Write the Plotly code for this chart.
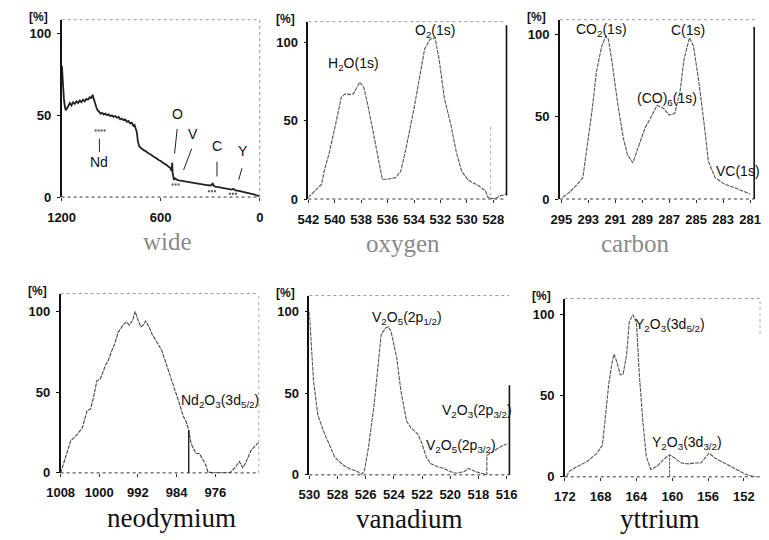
import plotly.graph_objects as go

# ---------------- data ----------------
wide_x = [1198, 1192, 1186, 1180, 1175, 1168, 1160, 1150, 1140, 1130, 1120, 1110, 1100, 1090, 1080,
          1070, 1060, 1050, 1040, 1030, 1020, 1012, 1005, 998, 990, 982, 975, 965, 955, 945, 935,
          925, 915, 905, 895, 885, 875, 865, 855, 845, 835, 825, 815, 805, 795, 785, 775, 765, 758,
          752, 745, 738, 730, 720, 710, 700, 690, 680, 670, 660, 650, 640, 630, 620, 610, 600, 590,
          580, 570, 560, 550, 540, 534, 530, 528, 524, 520, 515, 510, 500, 490, 480, 470, 460, 450,
          440, 430, 420, 410, 400, 390, 380, 370, 360, 350, 340, 330, 320, 310, 300, 290, 285, 280,
          275, 270, 260, 250, 240, 230, 220, 210, 200, 190, 180, 170, 160, 150, 140, 130, 120, 110,
          100, 90, 80, 70, 60, 50, 40, 30, 20, 10, 2]
wide_y = [80, 68, 60, 55, 53, 54, 56, 57.5, 56, 58, 57, 58.5, 57.5, 59, 58,
          59.5, 58.5, 60, 59.5, 61, 60.5, 62.5, 60, 57, 55, 53, 52.5, 51, 51.5, 50.5, 51,
          50, 50.5, 49.5, 50, 49, 49.5, 48.5, 49, 47.5, 48, 47, 47.5, 46, 46.5, 45, 45.5, 43.5, 44,
          42, 40, 34, 31, 30, 29.5, 28.5, 28, 27, 26.5, 26, 25, 24.5, 24, 23, 22.5, 22, 21,
          20.5, 20, 19, 18.5, 17.5, 16, 21, 15, 11, 10.5, 11.5, 11, 10.5, 10.2, 10, 9.8, 9.6, 9.5,
          9.3, 9.2, 9, 8.8, 8.6, 8.5, 8.3, 8.2, 8, 7.8, 7.6, 7.5, 7.3, 7.2, 7, 7.5, 8.5, 7,
          6.5, 6.4, 6.2, 6, 5.8, 5.6, 5.4, 5.2, 5, 4.8, 4.6, 4.5, 5, 4.2, 4, 3.8, 3.6, 3.3,
          3.1, 2.9, 2.6, 2.4, 2.1, 1.9, 1.6, 1.4, 1.1, 0.8, 0.5]
wide_marks = [([1000, 932], [40.6, 40.6]), ([534, 481], [7.6, 7.6]),
              ([314, 265], [3.6, 3.6]), ([187, 138], [2.0, 2.0])]
wide_ticks = [1200, 600, 0]

oxy_x = [542, 541.4, 541.0, 540.8, 540.4, 539.9, 539.5, 539.2, 538.8, 538.6, 538.2, 538.1, 537.8,
         537.5, 537.1, 536.7, 536.4, 536.0, 535.4, 535.0, 534.6, 534.0, 533.5, 533.2, 532.8, 532.4,
         532.1, 531.7, 531.2, 530.8, 530.4, 529.9, 529.1, 528.6, 528.4, 527.9, 527.5, 527.0]
oxy_y = [1, 6.3, 9.4, 17.8, 30, 49, 65, 67, 66.5, 67, 73, 74.4, 71,
         60, 43, 26, 12.6, 12.6, 13.6, 17.8, 32.5, 57.7, 82, 95.4, 101.7, 102.7,
         89, 64, 47, 30, 17.8, 12, 8.4, 5.2, 1, 0, 2, 3]
oxy_ticks = [542, 540, 538, 536, 534, 532, 530, 528]

carb_x = [294.9, 294.4, 293.8, 293.4, 293.1, 292.7, 292.4, 292.0, 291.7, 291.5, 291.2, 290.8, 290.4,
          290.1, 289.7, 289.2, 288.8, 288.4, 287.9, 287.4, 287.0, 286.6, 286.2, 285.9, 285.5, 285.2,
          284.8, 284.4, 284.1, 283.6, 282.9, 282.2, 281.7, 281.0]
carb_y = [1, 4, 9, 13, 31, 55, 77, 93, 99, 97, 81, 57, 37,
          27, 22, 33, 43, 49, 57, 55, 51, 52, 65, 85, 98, 93,
          71, 45, 23, 13, 9, 7, 5.4, 3]
carb_ticks = [295, 293, 291, 289, 287, 285, 283, 281]

nd_x = [1008, 1006.9, 1005.9, 1004.5, 1003.5, 1003, 1002.5, 1001.8, 1001.2, 1000.5, 999.8, 998.8,
        998.1, 997.5, 996.8, 996.1, 995.1, 994.4, 993.8, 993.1, 992.6, 992.1, 991.4, 990.9, 990.4,
        989.7, 989.1, 988.1, 987.1, 986.1, 985.0, 984.0, 983.4, 982.7, 982.0, 981.5, 981.0, 980.0,
        979.3, 978.7, 978.0, 977.5, 976.0, 974.0, 973.0, 972.0, 971.0, 970.3, 969.6, 968.6, 967.6,
        967.0]
nd_y = [0, 10, 20, 24, 28, 33.5, 38.6, 39.6, 46.7, 57, 58, 66,
        70, 75, 80, 87, 91.5, 93.5, 91.5, 94.5, 100, 95.5, 90.4, 91.5, 94,
        90.4, 86, 81, 76, 67, 57, 49, 42.7, 35.6, 31.5, 26.4, 18, 12,
        12, 9, 5, 0.4, 0, 0, 0, 3, 7, 3, 7, 14, 17,
        19]
nd_mark = ([981.5, 981.5], [0, 26.4])
nd_ticks = [1008, 1000, 992, 984, 976]

van_x = [530, 529.9, 529.7, 529.4, 529.0, 528.6, 528.2, 527.6, 527.2, 526.6, 526.3, 526.1, 525.8,
         525.4, 525.1, 524.9, 524.6, 524.4, 524.2, 523.8, 523.5, 523.1, 522.8, 522.3, 522.0, 521.7,
         521.4, 520.9, 520.5, 520.0, 519.6, 519.0, 518.7, 518.2, 517.4, 517.4, 517.0, 516.5, 516.0]
van_y = [100, 84, 57.6, 37, 27, 19, 11, 6, 4, 2, 0.4, 2, 17,
         43, 68, 86, 90, 91, 88, 72, 51.5, 33, 29, 25, 19, 11,
         7, 5, 4, 2, 1, 2, 4, 2, 0, 12, 14, 17, 19]
van_ticks = [530, 528, 526, 524, 522, 520, 518, 516]

ytt_x = [171.8, 171.5, 170.9, 169.5, 168.4, 167.8, 167.5, 167.1, 166.7, 166.5, 166.2, 165.8, 165.5,
         165.1, 164.8, 164.4, 164.0, 163.7, 163.3, 162.9, 162.4, 161.7, 161.0, 160.3, 159.7, 159.0,
         158.2, 157.5, 156.8, 156.4, 155.9, 155.2, 154.2, 153.2, 152.1, 151.4, 150.6]
ytt_y = [0.4, 3.4, 5.5, 9.5, 14.6, 19.6, 35, 57, 71, 75.7, 71, 63, 63,
         75, 95.5, 100, 95.5, 65, 35, 12.6, 4.5, 6.5, 10.5, 13.6, 11.5, 8.5,
         8, 8.5, 8.5, 11.5, 14.6, 11.5, 8.5, 5.5, 2.4, 0.8, 0]
ytt_ticks = [172, 168, 164, 160, 156, 152]

y_ticks = [0, 50, 100]

titles = ["wide", "oxygen", "carbon", "neodymium", "vanadium", "yttrium"]

# ---------------- layout helpers ----------------
W, H = 769, 540
TICKFONT = dict(family="Liberation Sans, Arial", size=13, color="#111", weight="bold")
LBLFONT = dict(family="Liberation Sans, Arial", size=14, color="#111")

panels = [
    dict(x=wide_x, y=wide_y, xr=[1200, 0], yr=[0, 108.4], px=[49, 253], py=[20, 200],
         ticks=wide_ticks, lw=1.8, col="#222", dash="solid"),
    dict(x=oxy_x, y=oxy_y, xr=[542, 527], yr=[0, 113], px=[303, 507], py=[22, 202],
         ticks=oxy_ticks, lw=1.1, col="#555", dash="4px,1px"),
    dict(x=carb_x, y=carb_y, xr=[295.1, 280.7], yr=[0, 109], px=[562, 762], py=[20, 202],
         ticks=carb_ticks, lw=1.1, col="#555", dash="4px,1px"),
    dict(x=nd_x, y=nd_y, xr=[1008, 967], yr=[0, 111], px=[48, 252], py=[298, 480],
         ticks=nd_ticks, lw=1.1, col="#444", dash="4px,1px"),
    dict(x=van_x, y=van_y, xr=[530, 515.8], yr=[0, 110], px=[304, 510], py=[300, 482],
         ticks=van_ticks, lw=1.1, col="#555", dash="4px,1px"),
    dict(x=ytt_x, y=ytt_y, xr=[172, 150.2], yr=[0, 110], px=[567, 768], py=[303, 484],
         ticks=ytt_ticks, lw=1.1, col="#555", dash="4px,1px"),
]

fig = go.Figure()
layout = {}
shapes = []
annotations = []

for i, p in enumerate(panels, start=1):
    xa = "x" if i == 1 else f"x{i}"
    ya = "y" if i == 1 else f"y{i}"
    fig.add_trace(go.Scatter(x=p["x"], y=p["y"], mode="lines", xaxis=xa, yaxis=ya,
                             line=dict(color=p["col"], width=p["lw"], dash=p["dash"]),
                             showlegend=False, hoverinfo="skip"))
    xdom = [p["px"][0] / W, p["px"][1] / W]
    ydom = [1 - p["py"][1] / H, 1 - p["py"][0] / H]
    layout["xaxis" if i == 1 else f"xaxis{i}"] = dict(
        domain=xdom, range=p["xr"], anchor=ya, tickvals=p["ticks"],
        ticktext=[str(t) for t in p["ticks"]], ticks="outside", ticklen=3, tickcolor="#333",
        ticklabelstandoff=5,
        showgrid=False, zeroline=False, showline=False, tickfont=TICKFONT)
    layout["yaxis" if i == 1 else f"yaxis{i}"] = dict(
        domain=ydom, range=p["yr"], anchor=xa, tickvals=y_ticks,
        ticktext=[str(t) for t in y_ticks], ticks="outside", ticklen=3, tickcolor="#111",
        ticklabelstandoff=3,
        showgrid=False, zeroline=False, showline=True, linecolor="#111", linewidth=1.6,
        tickfont=TICKFONT)
    xd = f"{xa} domain"
    yd = f"{ya} domain"
    shapes.append(dict(type="line", xref=xd, yref=yd, x0=0, x1=1, y0=0, y1=0,
                       line=dict(color="#333", width=1, dash="dot")))
    shapes.append(dict(type="line", xref=xd, yref=yd, x0=0, x1=1, y0=1, y1=1,
                       line=dict(color="#999", width=1, dash="dot")))
    annotations.append(dict(text="<b>[%]</b>", xref="paper", yref="paper",
                            x=(p["px"][0] - 24) / W, y=1 - (p["py"][0] - 3) / H,
                            showarrow=False, font=dict(family="Liberation Sans, Arial", size=12, color="#111"),
                            xanchor="center", yanchor="middle"))

shapes += [
    dict(type="line", xref="x domain", yref="y domain", x0=1, x1=1, y0=0, y1=1,
         line=dict(color="#999", width=1, dash="dot")),
    dict(type="line", xref="x2 domain", yref="y2 domain", x0=1, x1=1, y0=0.02, y1=0.98,
         line=dict(color="#111", width=1.6)),
    dict(type="line", xref="x3 domain", yref="y3 domain", x0=1, x1=1, y0=0.0, y1=0.96,
         line=dict(color="#111", width=1.6)),
    dict(type="line", xref="x4 domain", yref="y4 domain", x0=1, x1=1, y0=0, y1=1,
         line=dict(color="#aaa", width=1, dash="dot")),
    dict(type="line", xref="x5 domain", yref="y5 domain", x0=1, x1=1, y0=0, y1=0.5,
         line=dict(color="#111", width=1.6)),
    dict(type="line", xref="x6 domain", yref="y6 domain", x0=1, x1=1, y0=0.8, y1=1,
         line=dict(color="#aaa", width=1, dash="dot")),
    dict(type="line", xref="x2", yref="y2", x0=528.2, x1=528.2, y0=2, y1=47,
         line=dict(color="#aaa", width=1, dash="dot")),
    dict(type="line", xref="x6", yref="y6", x0=160.3, x1=160.3, y0=0, y1=13,
         line=dict(color="#555", width=1, dash="3px,1px")),
]

for mx, my in wide_marks:
    fig.add_trace(go.Scatter(x=mx, y=my, mode="lines", xaxis="x", yaxis="y",
                             line=dict(color="#555", width=2, dash="2px,1px"),
                             showlegend=False, hoverinfo="skip"))
fig.add_trace(go.Scatter(x=nd_mark[0], y=nd_mark[1], mode="lines", xaxis="x4", yaxis="y4",
                         line=dict(color="#111", width=1.3), showlegend=False, hoverinfo="skip"))

wide_leaders = [(971, 35.6, 971, 27.6), (500, 41.6, 516, 26.6), (412, 29.6, 461, 16.6),
                (259, 21.6, 259, 12.6), (108, 17.6, 127, 10.6)]
for x0, y0, x1, y1 in wide_leaders:
    shapes.append(dict(type="line", xref="x", yref="y", x0=x0, y0=y0, x1=x1, y1=y1,
                       line=dict(color="#222", width=1)))

peak_labels = [
    ("x", "y", 971, 21.6, "Nd"), ("x", "y", 500, 50.6, "O"), ("x", "y", 402, 38.6, "V"),
    ("x", "y", 259, 31, "C"), ("x", "y", 102, 28, "Y"),
    ("x2", "y2", 538.6, 86, "H<sub>2</sub>O(1s)"), ("x2", "y2", 532.4, 107, "O<sub>2</sub>(1s)"),
    ("x3", "y3", 292.0, 103, "CO<sub>2</sub>(1s)"), ("x3", "y3", 285.6, 103, "C(1s)"),
    ("x3", "y3", 287.2, 61, "(CO)<sub>6</sub>(1s)"), ("x3", "y3", 281.9, 17, "VC(1s)"),
    ("x4", "y4", 975, 44.7, "Nd<sub>2</sub>O<sub>3</sub>(3d<sub>5/2</sub>)"),
    ("x5", "y5", 523.1, 96, "V<sub>2</sub>O<sub>5</sub>(2p<sub>1/2</sub>)"),
    ("x5", "y5", 518.1, 39, "V<sub>2</sub>O<sub>3</sub>(2p<sub>3/2</sub>)"),
    ("x5", "y5", 519.2, 18, "V<sub>2</sub>O<sub>5</sub>(2p<sub>3/2</sub>)"),
    ("x6", "y6", 160.2, 93.5, "Y<sub>2</sub>O<sub>3</sub>(3d<sub>5/2</sub>)"),
    ("x6", "y6", 158.4, 20.6, "Y<sub>2</sub>O<sub>3</sub>(3d<sub>3/2</sub>)"),
]
for xr, yr, x, y, t in peak_labels:
    annotations.append(dict(text=t, xref=xr, yref=yr, x=x, y=y, showarrow=False,
                            font=LBLFONT, xanchor="center", yanchor="middle"))

title_pos = [(158, 245), (400, 247), (640, 247), (162, 526), (407, 527), (665, 527)]
for i, (t, (cx, cy)) in enumerate(zip(titles, title_pos)):
    top = i < 3
    annotations.append(dict(text=t, xref="paper", yref="paper", x=cx / W, y=1 - cy / H,
                            showarrow=False, xanchor="center", yanchor="middle",
                            font=dict(family="Liberation Serif, Times New Roman, serif",
                                      size=25 if top else 27,
                                      color="#8a8a8a" if top else "#111")))

fig.update_layout(width=W, height=H, margin=dict(l=0, r=0, t=0, b=0),
                  paper_bgcolor="white", plot_bgcolor="white",
                  shapes=shapes, annotations=annotations, **layout)

fig.write_html("out.html")
